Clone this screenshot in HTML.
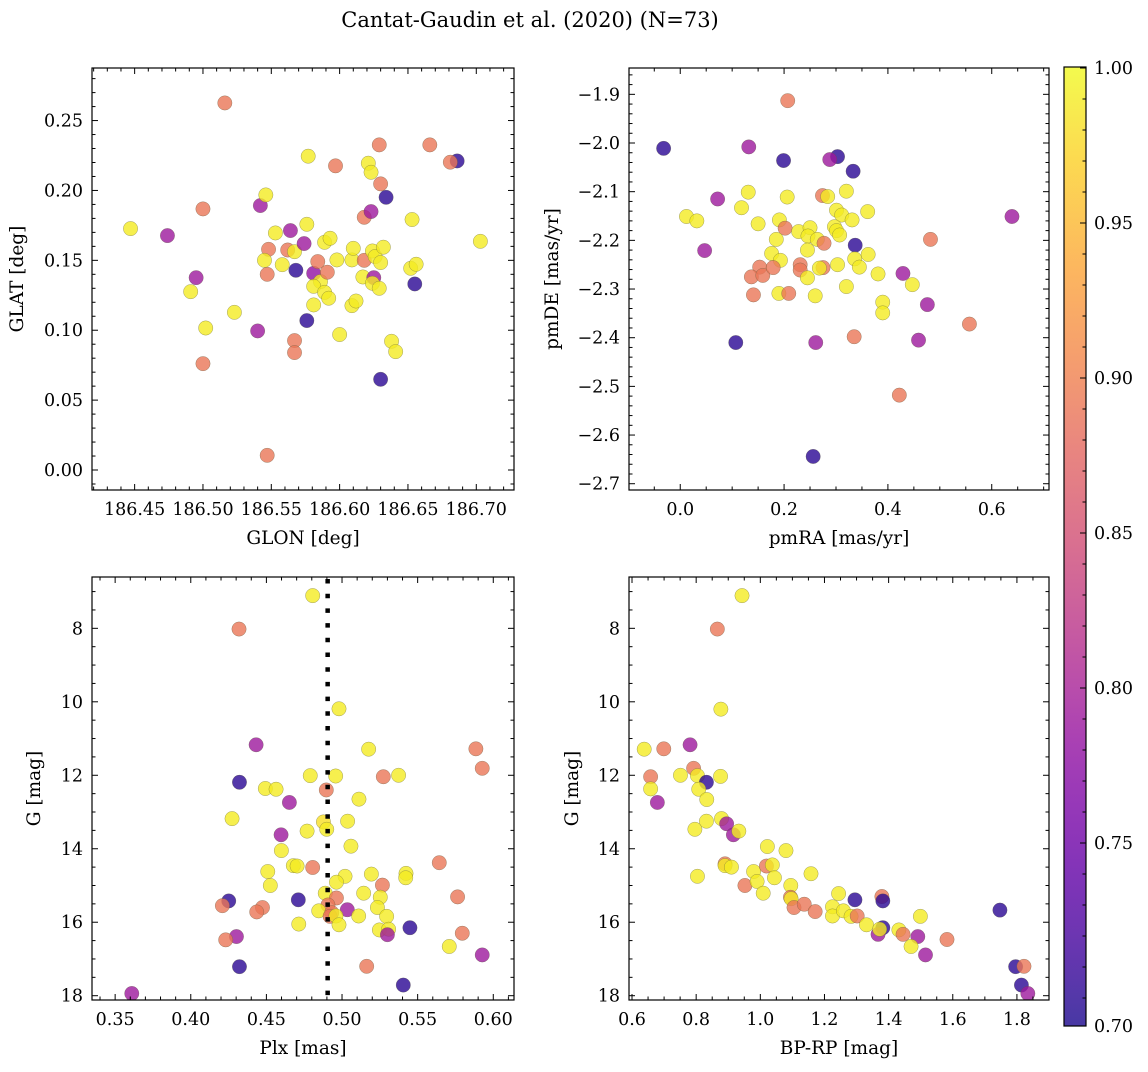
<!DOCTYPE html>
<html><head><meta charset="utf-8"><style>
html,body{margin:0;padding:0;background:#fff;}
svg text{font-family:"DejaVu Serif","Liberation Serif",serif;fill:#000;}
</style></head><body>
<svg id="fig" width="1148" height="1067" viewBox="0 0 1148 1067" xmlns="http://www.w3.org/2000/svg">
<defs><linearGradient id="cbg" x1="0" y1="1" x2="0" y2="0"></linearGradient></defs>
<text x="530" y="27" font-size="21" text-anchor="middle">Cantat-Gaudin et al. (2020) (N=73)</text>
</svg>
<script>
// ---- data ----
const probLevels = [0.70, 0.79, 0.89, 0.99];
// Panel 1: GLON / GLAT
const glon = [186.516,186.447,186.474,186.500,186.495,186.491,186.502,186.500,186.523,186.540,186.542,186.546,186.547,186.553,186.548,186.545,186.547,186.558,186.564,186.562,186.567,186.568,186.574,186.576,186.577,186.567,186.567,186.576,186.581,186.584,186.586,186.581,186.589,186.592,186.581,186.591,186.589,186.593,186.597,186.598,186.600,186.609,186.610,186.609,186.612,186.618,186.617,186.618,186.623,186.621,186.623,186.624,186.626,186.630,186.632,186.625,186.624,186.629,186.629,186.630,186.634,186.630,186.638,186.641,186.653,186.652,186.656,186.655,186.666,186.686,186.681,186.703];
const glat = [0.2626,0.1727,0.1677,0.1868,0.1376,0.1276,0.1016,0.0761,0.1128,0.0995,0.1892,0.1968,0.0105,0.1696,0.1579,0.1500,0.1400,0.1469,0.1713,0.1574,0.1562,0.1429,0.1620,0.1758,0.2245,0.0926,0.0840,0.1069,0.1407,0.1491,0.1348,0.1314,0.1271,0.1229,0.1181,0.1415,0.1629,0.1658,0.2176,0.1503,0.0969,0.1503,0.1586,0.1176,0.1209,0.1500,0.1381,0.1808,0.1849,0.2195,0.2130,0.1567,0.1527,0.1484,0.1594,0.1376,0.1336,0.1300,0.2326,0.2047,0.1951,0.0649,0.0921,0.0847,0.1792,0.1443,0.1472,0.1331,0.2326,0.2211,0.2202,0.1636];
const prob1 = [0.89,0.99,0.79,0.89,0.79,0.99,0.99,0.89,0.99,0.79,0.79,0.99,0.89,0.99,0.89,0.99,0.89,0.99,0.79,0.89,0.99,0.70,0.79,0.99,0.99,0.89,0.89,0.70,0.78,0.89,0.99,0.99,0.99,0.99,0.99,0.89,0.99,0.99,0.89,0.99,0.99,0.99,0.99,0.99,0.99,0.89,0.99,0.89,0.79,0.99,0.99,0.99,0.99,0.99,0.99,0.79,0.99,0.99,0.89,0.89,0.70,0.70,0.99,0.99,0.99,0.99,0.99,0.70,0.89,0.70,0.89,0.99];
// Panel 2: pmRA / pmDE
const pmra = [0.207,-0.032,0.132,0.199,0.303,0.288,0.333,0.072,0.012,0.032,0.047,0.118,0.131,0.150,0.206,0.191,0.202,0.185,0.176,0.193,0.153,0.137,0.159,0.179,0.141,0.190,0.209,0.228,0.250,0.246,0.264,0.277,0.245,0.231,0.231,0.245,0.275,0.268,0.260,0.274,0.284,0.320,0.301,0.311,0.331,0.297,0.301,0.307,0.361,0.337,0.303,0.336,0.345,0.362,0.320,0.381,0.429,0.447,0.390,0.390,0.476,0.482,0.557,0.639,0.107,0.261,0.335,0.459,0.422,0.256];
const pmde = [-1.913,-2.011,-2.008,-2.036,-2.028,-2.034,-2.058,-2.115,-2.151,-2.160,-2.221,-2.133,-2.101,-2.166,-2.111,-2.158,-2.175,-2.198,-2.227,-2.241,-2.255,-2.275,-2.272,-2.256,-2.312,-2.309,-2.309,-2.182,-2.174,-2.191,-2.198,-2.206,-2.220,-2.250,-2.261,-2.277,-2.256,-2.257,-2.314,-2.108,-2.110,-2.099,-2.138,-2.148,-2.158,-2.172,-2.180,-2.189,-2.141,-2.210,-2.250,-2.238,-2.255,-2.229,-2.295,-2.269,-2.268,-2.291,-2.327,-2.349,-2.332,-2.198,-2.372,-2.151,-2.410,-2.410,-2.398,-2.405,-2.518,-2.644];
const prob2 = [0.89,0.70,0.79,0.70,0.70,0.79,0.70,0.79,0.99,0.99,0.79,0.99,0.99,0.99,0.99,0.99,0.89,0.99,0.99,0.99,0.89,0.89,0.89,0.89,0.89,0.99,0.89,0.99,0.99,0.99,0.99,0.89,0.99,0.89,0.89,0.99,0.89,0.99,0.99,0.89,0.99,0.99,0.99,0.99,0.99,0.99,0.99,0.99,0.99,0.70,0.99,0.99,0.99,0.99,0.99,0.99,0.79,0.99,0.99,0.99,0.79,0.89,0.89,0.79,0.70,0.79,0.89,0.79,0.89,0.70];
// Panel 3: Plx / G
const plx = [0.4806,0.4319,0.498,0.4432,0.5176,0.5885,0.5927,0.4322,0.479,0.4958,0.5273,0.5374,0.4896,0.4493,0.4564,0.4652,0.5112,0.4273,0.4877,0.5037,0.4899,0.4769,0.4597,0.5059,0.4599,0.4678,0.4703,0.4806,0.5643,0.4509,0.5194,0.5020,0.5423,0.5421,0.4963,0.4526,0.5267,0.4889,0.5143,0.5764,0.4251,0.4711,0.4963,0.5253,0.4209,0.4907,0.4474,0.4436,0.5035,0.5234,0.4846,0.4932,0.4921,0.4960,0.5110,0.5295,0.4714,0.498,0.5449,0.5247,0.5308,0.530,0.4302,0.4231,0.5795,0.5709,0.5927,0.4322,0.5163,0.5405,0.361];
const gmag3 = [7.11,8.02,10.19,11.17,11.29,11.28,11.81,12.19,12.01,12.02,12.04,12.00,12.40,12.36,12.38,12.74,12.65,13.18,13.27,13.25,13.47,13.52,13.62,13.93,14.05,14.46,14.47,14.51,14.38,14.62,14.69,14.75,14.67,14.79,14.91,15.00,14.99,15.21,15.21,15.31,15.42,15.39,15.34,15.32,15.55,15.53,15.60,15.72,15.66,15.60,15.69,15.74,15.84,15.83,15.83,15.84,16.05,16.07,16.15,16.21,16.19,16.34,16.39,16.48,16.30,16.66,16.89,17.21,17.20,17.71,17.94];
const prob3 = [0.99,0.89,0.99,0.79,0.99,0.89,0.89,0.70,0.99,0.99,0.89,0.99,0.89,0.99,0.99,0.79,0.99,0.99,0.98,0.99,0.99,0.99,0.79,0.99,0.99,0.99,0.99,0.89,0.89,0.99,0.99,0.99,0.99,0.99,0.99,0.99,0.89,0.99,0.99,0.89,0.70,0.70,0.89,0.99,0.89,0.89,0.89,0.89,0.79,0.99,0.99,0.89,0.89,0.99,0.99,0.99,0.99,0.99,0.70,0.99,0.99,0.79,0.79,0.89,0.89,0.99,0.79,0.70,0.89,0.70,0.79];
// Panel 4: BP-RP / G
const bprp = [0.943,0.866,0.877,0.638,0.699,0.781,0.658,0.658,0.679,0.751,0.792,0.804,0.832,0.808,0.833,0.876,0.796,0.832,0.879,0.895,0.916,0.933,0.804,0.890,0.890,0.910,0.952,0.979,0.990,1.009,1.019,1.022,1.0375,1.044,1.080,1.095,1.094,1.096,1.105,1.137,1.171,1.158,1.225,1.225,1.244,1.259,1.283,1.302,1.295,1.331,1.379,1.382,1.382,1.367,1.372,1.432,1.445,1.491,1.499,1.470,1.515,1.582,1.747,1.796,1.822,1.814,1.834];
const gmag4 = [7.11,8.02,10.20,11.29,11.28,11.17,12.04,12.37,12.74,12.00,11.81,12.01,12.19,12.38,12.66,12.03,13.47,13.25,13.18,13.32,13.62,13.52,14.75,14.41,14.46,14.50,15.00,14.62,14.89,15.21,14.47,13.94,14.44,14.79,14.05,15.00,15.32,15.36,15.60,15.51,15.71,14.68,15.58,15.83,15.22,15.69,15.84,15.83,15.39,16.07,15.30,15.42,16.15,16.33,16.19,16.21,16.33,16.39,15.84,16.66,16.89,16.47,15.67,17.21,17.20,17.71,17.94];
const prob4 = [0.99,0.89,0.99,0.99,0.89,0.79,0.89,0.99,0.79,0.99,0.89,0.99,0.70,0.99,0.99,0.99,0.99,0.99,0.99,0.79,0.79,0.99,0.99,0.89,0.99,0.99,0.89,0.99,0.99,0.99,0.89,0.99,0.99,0.99,0.99,0.99,0.89,0.99,0.89,0.89,0.89,0.99,0.99,0.99,0.99,0.99,0.99,0.89,0.70,0.99,0.89,0.70,0.70,0.79,0.99,0.99,0.89,0.79,0.99,0.99,0.79,0.89,0.70,0.70,0.89,0.70,0.79];
// tick labels
const ticks1x = [186.45,186.50,186.55,186.60,186.65,186.70];
const ticks1y = [0.00,0.05,0.10,0.15,0.20,0.25];
const ticks2x = [0.0,0.2,0.4,0.6];
const ticks2y = [-1.9,-2.0,-2.1,-2.2,-2.3,-2.4,-2.5,-2.6,-2.7];
const ticks3x = [0.35,0.40,0.45,0.50,0.55,0.60];
const ticksG = [8,10,12,14,16,18];
const ticks4x = [0.6,0.8,1.0,1.2,1.4,1.6,1.8];
const cbTicks = [1.00,0.95,0.90,0.85,0.80,0.75];
const plxRef = [0.4905];

const NS = "http://www.w3.org/2000/svg";
const svg = document.getElementById('fig');
function mk(tag, attrs, parent){ const e=document.createElementNS(NS,tag); for(const k in attrs) e.setAttribute(k,attrs[k]); (parent||svg).appendChild(e); return e; }

const plasma = [[13,8,135],[65,4,157],[106,0,168],[143,13,164],[177,42,144],[204,71,120],[225,100,98],[242,132,75],[252,166,54],[252,206,37],[240,249,33]];
const VMIN = 0.683, VMAX = 1.0;
function cmap(p){ let t=(p-VMIN)/(VMAX-VMIN); t=Math.max(0,Math.min(1,t)); const f=t*10, i=Math.min(9,Math.floor(f)), r=f-i;
  const a=plasma[i], b=plasma[i+1]; return 'rgb('+a.map((v,k)=>Math.round(v+(b[k]-v)*r)).join(',')+')'; }

function linear(d0,d1,r0,r1){ return v => r0 + (v-d0)/(d1-d0)*(r1-r0); }

const TFS = 17.5, LFS = 18.5;
function panel(o){
  const g = mk('g',{});
  
  
  const X = linear(o.xd[0],o.xd[1],o.x0,o.x1), Y = linear(o.yd[0],o.yd[1],o.y0,o.y1);
  const clipId = o.name+'-clip';
  const cp = mk('clipPath',{id:clipId},g); mk('rect',{x:o.x0,y:o.y0,width:o.x1-o.x0,height:o.y1-o.y0},cp);
  const pts = mk('g',{'clip-path':'url(#'+clipId+')'},g);
  
  
  for (let i=0;i<o.xs.length;i++){
    const c = mk('circle',{cx:X(o.xs[i]),cy:Y(o.ys[i]),r:7.2,fill:cmap(o.ps[i]),'fill-opacity':0.8,stroke:'rgba(90,90,60,0.55)','stroke-width':0.5},pts);
    
    
  }
  if (o.vline){ for (const v of o.vline){ const l=mk('line',{x1:X(v),x2:X(v),y1:o.y0,y2:o.y1,stroke:'#000','stroke-width':4.5,'stroke-dasharray':'4.5 10.2','stroke-dashoffset':'-2'},g);
      
       } }
  const fr = mk('rect',{x:o.x0,y:o.y0,width:o.x1-o.x0,height:o.y1-o.y0,fill:'none',stroke:'#000','stroke-width':1.2},g);
  
  
  const tk = mk('g',{stroke:'#000','stroke-width':1},g);
  const xs0=Math.min(o.xd[0],o.xd[1]), xs1=Math.max(o.xd[0],o.xd[1]);
  for (let v=Math.ceil(xs0/o.xmin-1e-6)*o.xmin; v<=xs1+1e-9; v+=o.xmin){ const px=X(v);
    const isMaj = o.xt.some(t=>Math.abs(t-v)<o.xmin/3); const L=isMaj?6:3.5;
    mk('line',{x1:px,x2:px,y1:o.y1,y2:o.y1-L},tk); mk('line',{x1:px,x2:px,y1:o.y0,y2:o.y0+L},tk); }
  const ys0=Math.min(o.yd[0],o.yd[1]), ys1=Math.max(o.yd[0],o.yd[1]);
  for (let v=Math.ceil(ys0/o.ymin-1e-6)*o.ymin; v<=ys1+1e-9; v+=o.ymin){ const py=Y(v);
    const isMaj = o.yt.some(t=>Math.abs(t-v)<o.ymin/3); const L=isMaj?6:3.5;
    mk('line',{x1:o.x0,x2:o.x0+L,y1:py,y2:py},tk); mk('line',{x1:o.x1,x2:o.x1-L,y1:py,y2:py},tk); }
  for (const t of o.xt){ const e=mk('text',{x:X(t),y:o.y1+25,'font-size':TFS,'text-anchor':'middle'},g); e.textContent=t.toFixed(o.xdec);
    
     }
  for (const t of o.yt){ const e=mk('text',{x:o.x0-9,y:Y(t)+6,'font-size':TFS,'text-anchor':'end'},g); e.textContent=(t<0?'\u2212'+Math.abs(t).toFixed(o.ydec):t.toFixed(o.ydec));
    
     }
  const xl=mk('text',{x:(o.x0+o.x1)/2,y:o.y1+54,'font-size':LFS,'text-anchor':'middle'},g); xl.textContent=o.xlabel;
  
  
  const yc=(o.y0+o.y1)/2;
  const yl=mk('text',{x:o.ylx,y:yc,'font-size':LFS,'text-anchor':'middle',transform:'rotate(-90 '+o.ylx+' '+yc+')'},g); yl.textContent=o.ylabel;
  
  
}

panel({name:'glon-glat-panel',x0:92,x1:514,y0:68,y1:490,xd:[186.4188,186.7276],yd:[0.2876,-0.0143],xs:glon,ys:glat,ps:prob1,
  xt:ticks1x,xmin:0.01,xdec:2,yt:ticks1y,ymin:0.01,ydec:2,xlabel:'GLON [deg]',ylabel:'GLAT [deg]',ylx:23});
panel({name:'pm-panel',x0:629,x1:1049,y0:68,y1:490,xd:[-0.0987,0.7103],yd:[-1.8459,-2.7129],xs:pmra,ys:pmde,ps:prob2,
  xt:ticks2x,xmin:0.05,xdec:1,yt:ticks2y,ymin:0.02,ydec:1,xlabel:'pmRA [mas/yr]',ylabel:'pmDE [mas/yr]',ylx:558});
panel({name:'plx-g-panel',x0:92,x1:514,y0:577,y1:1000,xd:[0.3347,0.6137],yd:[6.603,18.117],xs:plx,ys:gmag3,ps:prob3,vline:plxRef,
  xt:ticks3x,xmin:0.01,xdec:2,yt:ticksG,ymin:0.5,ydec:0,xlabel:'Plx [mas]',ylabel:'G [mag]',ylx:40});
panel({name:'cmd-panel',x0:629,x1:1049,y0:577,y1:1000,xd:[0.5906,1.9000],yd:[6.603,18.117],xs:bprp,ys:gmag4,ps:prob4,
  xt:ticks4x,xmin:0.05,xdec:1,yt:ticksG,ymin:0.5,ydec:0,xlabel:'BP-RP [mag]',ylabel:'G [mag]',ylx:578});

const grad = document.getElementById('cbg');
const cbTop=67, cbBot=1026, cbX0=1064, cbX1=1086;
const CY = linear(1.0, 0.95, 68, 223);
const vBot = 1.0 - (cbBot-68)/(223-68)*0.05;
for (let k=0;k<=20;k++){ const t=k/20; const v=vBot+(1.0-vBot)*t; mk('stop',{offset:t,'stop-color':cmap(v)},grad); }
const cb = mk('g',{});


mk('rect',{x:cbX0,y:cbTop,width:cbX1-cbX0,height:cbBot-cbTop,fill:'url(#cbg)','fill-opacity':0.8},cb);
mk('rect',{x:cbX0,y:cbTop,width:cbX1-cbX0,height:cbBot-cbTop,fill:'none',stroke:'#000','stroke-width':1.2},cb);
for (let v=1.0; v>vBot; v-=0.01){ const py=CY(v); const maj=cbTicks.some(t=>Math.abs(t-v)<0.003);
  mk('line',{x1:cbX1,x2:cbX1-(maj?6:3.5),y1:py,y2:py,stroke:'#000','stroke-width':1},cb); }
for (const t of cbTicks){ const e=mk('text',{x:1094,y:CY(t)+6,'font-size':TFS},cb); e.textContent=t.toFixed(2);
  
   }
const e70=mk('text',{x:1094,y:cbBot+6,'font-size':TFS},cb); e70.textContent='0.70';


</script>
</body></html>
